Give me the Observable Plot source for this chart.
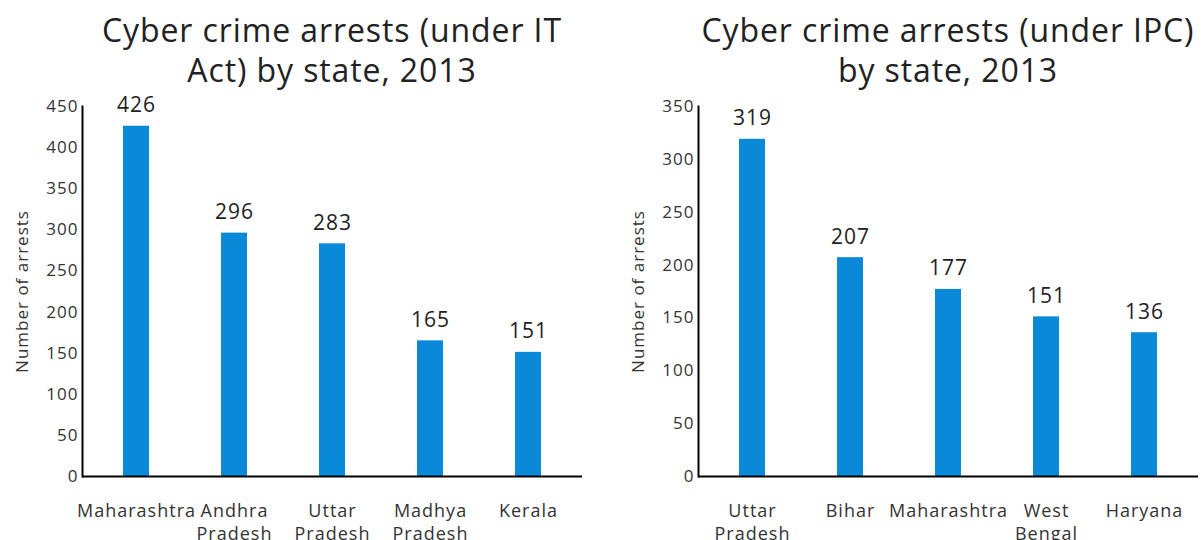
<!DOCTYPE html>
<html><head><meta charset="utf-8">
<script src="https://cdn.jsdelivr.net/npm/d3@7"></script>
<script src="https://cdn.jsdelivr.net/npm/@observablehq/plot@0.6"></script>
<style>
body{margin:0;background:#fff;font-family:"Open Sans", "Noto Sans", sans-serif;}
#wrap{display:flex;width:1204px;height:540px;overflow:hidden;}
.panel{position:relative;}
.title{box-sizing:border-box;height:90px;padding-top:10px;font-size:32px;line-height:40px;letter-spacing:0.9px;text-align:center;color:#222;white-space:nowrap;}
svg{letter-spacing:1px;}
</style></head><body><div id="wrap"></div>
<script>
const itStates = ["Maharashtra", "Andhra Pradesh", "Uttar Pradesh", "Madhya Pradesh", "Kerala"];
const itArrests = [426, 296, 283, 165, 151];
const ipcStates = ["Uttar Pradesh", "Bihar", "Maharashtra", "West Bengal", "Haryana"];
const ipcArrests = [319, 207, 177, 151, 136];
const itTicks = [0, 50, 100, 150, 200, 250, 300, 350, 400, 450];
const ipcTicks = [0, 50, 100, 150, 200, 250, 300, 350];
const titles = [["Cyber crime arrests (under IT", "Act) by state, 2013"], ["Cyber crime arrests (under IPC)", "by state, 2013"]];
const yLabel = "Number of arrests";

function panel(states, values, ticks, title, width, ml, mr) {
  const data = states.map((s, i) => ({state: s, value: values[i]}));
  const div = document.createElement("div");
  div.className = "panel";
  div.style.width = width + "px";
  const t = document.createElement("div");
  t.className = "title";
  t.style.paddingLeft = ml + "px";
  t.style.paddingRight = mr + "px";
  t.innerHTML = title.join("<br>");
  div.appendChild(t);
  const max = ticks[ticks.length - 1];
  const svg = Plot.plot({
    width, height: 450,
    marginLeft: ml, marginRight: mr, marginTop: 16, marginBottom: 64,
    style: {fontFamily: '"Open Sans", "Noto Sans", sans-serif', color: "#333", background: "transparent", overflow: "visible"},
    x: {domain: states, paddingInner: 0.735, paddingOuter: 0.41, axis: null},
    y: {domain: [0, max], axis: null},
    marks: [
      Plot.barY(data, {x: "state", y: "value", fill: "#0a89d8"}),
      Plot.axisY({ticks, tickSize: 0, tickPadding: 4, fontSize: 17, label: yLabel, labelAnchor: "center", labelArrow: "none", labelOffset: 67}),
      Plot.text(data, {x: "state", frameAnchor: "bottom", lineAnchor: "top", dy: 25, lineHeight: 1.24, fontSize: 18, fill: "#333", text: d => d.state.replace(" ", "\n")}),
      Plot.frame({anchor: "left", stroke: "#000", strokeWidth: 2}),
      Plot.ruleY([0], {stroke: "#000", strokeWidth: 2}),
      Plot.text(data, {x: "state", y: "value", text: d => String(d.value), lineAnchor: "bottom", dy: -14, fontSize: 21, fill: "#222"})
    ]
  });
  div.appendChild(svg);
  return div;
}
const wrap = document.getElementById("wrap");
wrap.appendChild(panel(itStates, itArrests, itTicks, titles[0], 600, 82, 18));
wrap.appendChild(panel(ipcStates, ipcArrests, ipcTicks, titles[1], 604, 98, 6));
</script></body></html>
